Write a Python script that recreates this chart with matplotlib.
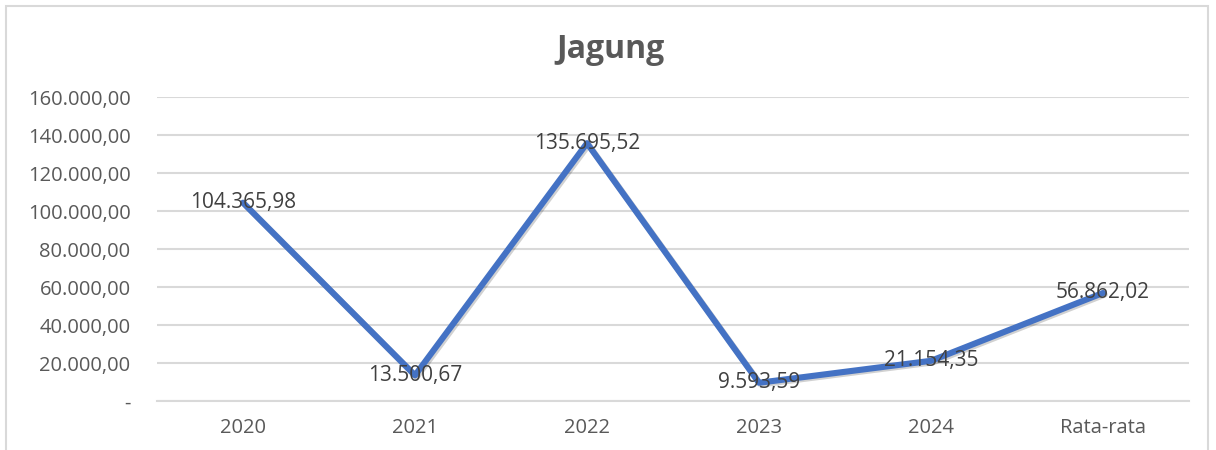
import matplotlib
matplotlib.use("Agg")
import matplotlib.pyplot as plt
import matplotlib.patheffects as pe
from matplotlib.patches import Rectangle

categories = ["2020", "2021", "2022", "2023", "2024", "Rata-rata"]
values = [104365.98, 13500.67, 135695.52, 9593.59, 21154.35, 56862.02]
yticks = [0, 20000, 40000, 60000, 80000, 100000, 120000, 140000, 160000]
title = "Jagung"

def fmt(v):
    if v == 0:
        return "-"
    s = f"{v:,.2f}"
    return s.replace(",", "X").replace(".", ",").replace("X", ".")

plt.rcParams['font.family'] = ['Open Sans', 'DejaVu Sans']

fig = plt.figure(figsize=(12.16, 4.5), dpi=100)
fig.patch.set_facecolor("white")
ax = fig.add_axes([157/1216, 1-401/450, (1189-157)/1216, (401-97)/450])

x = list(range(len(categories)))
ax.plot(x, values, color="#4472C4", lw=4.4, solid_joinstyle="round", solid_capstyle="round",
        path_effects=[pe.SimpleLineShadow(offset=(1.2, -1.2), alpha=0.18, shadow_color="black"), pe.Normal()],
        zorder=3)

for xi, v in zip(x, values):
    ax.text(xi, v, fmt(v), ha="center", va="center", fontsize=15, color="#404040", zorder=4)

ax.set_xlim(-0.5, len(categories) - 0.5)
ax.set_ylim(0, 160000)
ax.set_yticks(yticks)
ax.set_yticklabels([fmt(v) for v in yticks])
ax.set_xticks(x)
ax.set_xticklabels(categories)
ax.tick_params(axis="both", length=0, labelsize=14.5, colors="#595959")
ax.tick_params(axis="y", pad=19)
ax.tick_params(axis="x", pad=12)
ax.grid(axis="y", color="#D9D9D9", lw=1.5)
ax.set_axisbelow(True)
for s in ["top", "right", "left"]:
    ax.spines[s].set_visible(False)
ax.spines["bottom"].set_color("#D9D9D9")
ax.spines["bottom"].set_linewidth(1.5)

fig.text(611/1216, 1-50/450, title, ha="center", va="center", fontsize=23, fontweight="bold", color="#595959")

fig.patches.append(Rectangle((6/1216, -0.1), (1208-6)/1216, 1.1 - 6/450, transform=fig.transFigure,
                             fill=False, edgecolor="#D9D9D9", lw=1.5))

fig.savefig("out.png", dpi=100)
